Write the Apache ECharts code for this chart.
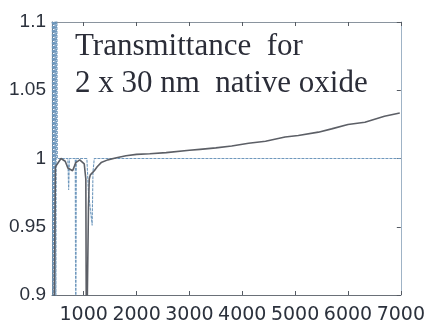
<!DOCTYPE html>
<html>
<head>
<meta charset="utf-8">
<title>Transmittance for 2 x 30 nm native oxide</title>
<script src="https://cdn.jsdelivr.net/npm/echarts@6/dist/echarts.min.js"></script>
<style>
  html, body { margin: 0; padding: 0; background: #ffffff; }
  #chart { width: 428px; height: 325px; }
</style>
</head>
<body>
<div id="chart"></div>
<script>
// Wavenumber axis (cm^-1) and transmittance values, two measured traces.
const grayWavenumber = [425, 445, 465, 500, 570, 650, 700, 790, 850, 925, 1010, 1040, 1052, 1078, 1090, 1105, 1125, 1200, 1255, 1330, 1455, 1620, 1800, 2000, 2250, 2560, 3000, 3200, 3500, 3800, 4120, 4440, 4810, 5060, 5440, 5690, 6000, 6320, 6690, 6980];
const grayTransmittance = [0.85, 0.9, 0.994, 0.995, 1.0, 0.998, 0.993, 0.991, 0.997, 0.999, 0.996, 0.985, 0.85, 0.85, 0.964, 0.985, 0.988, 0.991, 0.994, 0.997, 0.999, 1.0005, 1.002, 1.003, 1.0035, 1.0043, 1.006, 1.0067, 1.0078, 1.0092, 1.0112, 1.0126, 1.0157, 1.0169, 1.0193, 1.0217, 1.0249, 1.0266, 1.0309, 1.0333];

const blueWavenumber = [402, 416, 430, 444, 458, 472, 486, 500, 700, 715, 730, 840, 850, 860, 1060, 1090, 1160, 1175, 1200, 7000];
const blueTransmittance = [1.2, 0.85, 1.2, 0.85, 1.2, 0.85, 1.2, 1.0, 1.0, 0.977, 1.0, 1.0, 0.85, 1.0, 1.0, 0.975, 0.951, 0.99, 1.0, 1.0];

const xTickValues = [1000, 2000, 3000, 4000, 5000, 6000, 7000];
const xRange = [400, 7000];
const yRange = [0.9, 1.1];
const yStep = 0.05;

const titleLines = ['Transmittance  for', '2 x 30 nm  native oxide'];

const pairs = (xs, ys) => xs.map((x, i) => [x, ys[i]]);

const frameColor = '#8a949e';
const labelColor = '#2b313c';

const chart = echarts.init(document.getElementById('chart'), null, { renderer: 'canvas' });

chart.setOption({
  backgroundColor: '#ffffff',
  animation: false,
  grid: { left: 52, right: 25, top: 22, bottom: 27, containLabel: false },
  xAxis: [
    {
      type: 'value', min: xRange[0], max: xRange[1],
      axisLine: { show: true, onZero: false, lineStyle: { color: '#6a7078', width: 1 } },
      axisTick: { show: true, inside: true, length: 4, customValues: xTickValues, lineStyle: { color: '#555b63' } },
      axisLabel: {
        show: true, customValues: xTickValues, margin: 11,
        formatter: v => String(v),
        color: labelColor, fontFamily: 'DejaVu Sans', fontSize: 19
      },
      splitLine: { show: false }
    },
    {
      type: 'value', position: 'top', min: xRange[0], max: xRange[1],
      axisLine: { show: true, onZero: false, lineStyle: { color: frameColor, width: 1 } },
      axisTick: { show: true, inside: true, length: 4, customValues: xTickValues, lineStyle: { color: '#555b63' } },
      axisLabel: { show: false },
      splitLine: { show: false }
    }
  ],
  yAxis: [
    {
      type: 'value', min: yRange[0], max: yRange[1], interval: yStep,
      axisLine: { show: true, onZero: false, lineStyle: { color: '#6a7078', width: 1 } },
      axisTick: { show: true, inside: true, length: 4, lineStyle: { color: '#555b63' } },
      axisLabel: {
        show: true, margin: 6,
        color: labelColor, fontFamily: 'Liberation Sans', fontSize: 19
      },
      splitLine: { show: false }
    },
    {
      type: 'value', position: 'right', min: yRange[0], max: yRange[1], interval: yStep,
      axisLine: { show: true, onZero: false, lineStyle: { color: '#9fb3c6', width: 1 } },
      axisTick: { show: true, inside: true, length: 4, lineStyle: { color: '#555b63' } },
      axisLabel: { show: false },
      splitLine: { show: false }
    }
  ],
  series: [
    {
      name: 'blue',
      type: 'line',
      xAxisIndex: 0, yAxisIndex: 0,
      data: pairs(blueWavenumber, blueTransmittance),
      showSymbol: false,
      clip: true,
      lineStyle: { color: '#6f98bd', width: 1.1, type: [3, 1] },
      z: 2
    },
    {
      name: 'gray',
      type: 'line',
      xAxisIndex: 0, yAxisIndex: 0,
      data: pairs(grayWavenumber, grayTransmittance),
      showSymbol: false,
      clip: true,
      lineStyle: { color: '#5c5f66', width: 1.6 },
      z: 3
    }
  ],
  graphic: titleLines.map((line, i) => ({
    type: 'text',
    left: 75,
    top: 31 + i * 37.5,
    style: {
      text: line,
      font: '31px "Liberation Serif"',
      fill: '#2b2d38'
    }
  }))
});
</script>
</body>
</html>
